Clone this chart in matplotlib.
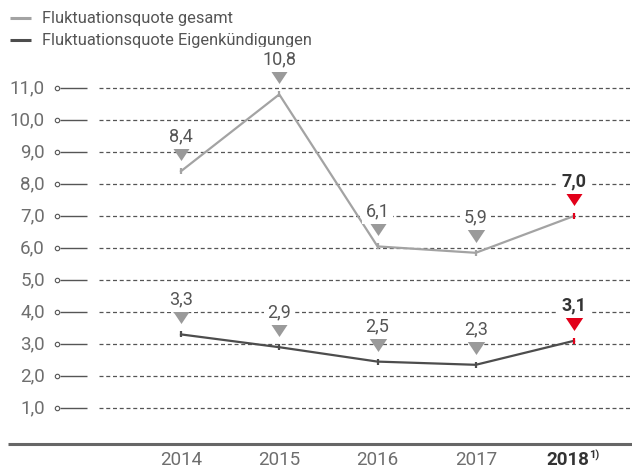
import matplotlib
matplotlib.use("Agg")
import matplotlib.pyplot as plt
from matplotlib.transforms import offset_copy

plt.rcParams['font.family'] = ['Roboto', 'DejaVu Sans']

years = ["2014", "2015", "2016", "2017", "2018"]
gesamt = [8.4, 10.8, 6.05, 5.85, 7.0]
gesamt_labels = ["8,4", "10,8", "6,1", "5,9", "7,0"]
eigen = [3.3, 2.9, 2.45, 2.35, 3.1]
eigen_labels = ["3,3", "2,9", "2,5", "2,3", "3,1"]
yticks = [1, 2, 3, 4, 5, 6, 7, 8, 9, 10, 11]
ytick_labels = ["1,0", "2,0", "3,0", "4,0", "5,0", "6,0", "7,0", "8,0", "9,0", "10,0", "11,0"]
legend_labels = ["Fluktuationsquote gesamt", "Fluktuationsquote Eigenkündigungen"]

C_LIGHT = "#a3a3a3"
C_DARK = "#4d4d4d"
C_RED = "#e2001a"
C_TRI = "#9a9a9a"
C_TXT = "#555555"

W, H = 632, 469
fig = plt.figure(figsize=(W / 100, H / 100), dpi=100)
ax = fig.add_axes([0, 0, 1, 1])
X0, DX = 181, 98.25
Y0, DY = 440, 32.0
ax.set_xlim(-X0 / DX, (W - X0) / DX)
ax.set_ylim(-(H - Y0) / DY, Y0 / DY)
ax.axis('off')

def px(p):
    return (p - X0) / DX

def py(p):
    return (Y0 - p) / DY

xs = list(range(len(years)))

# gridlines and tick decorations
for v, lab in zip(yticks, ytick_labels):
    ax.plot([px(99), px(632)], [v, v], color="#555555", lw=0.9,
            dashes=(3.2, 2.2), zorder=1)
    ax.plot([px(60), px(87)], [v, v], color="#555555", lw=1.0, zorder=1,
            solid_capstyle='butt')
    ax.plot([px(57.5)], [v], marker='o', ms=3.2, mfc='white', mec="#555555",
            mew=0.8, zorder=2)
    ax.text(px(45), v, lab, ha='right', va='center', fontsize=13.5,
            color="#6e6e6e")

# baseline
ax.plot([px(8), px(632)], [py(444), py(444)], color="#666666", lw=2.2,
        solid_capstyle='butt')

# year labels
for i, y in enumerate(years[:-1]):
    ax.text(xs[i], py(460), y, ha='center', va='center', fontsize=13.5,
            color="#6e6e6e")
ax.text(px(589), py(460), years[-1], ha='right', va='center', fontsize=13.5,
        color="#333333", fontweight='bold')
ax.text(px(589.5), py(455.5), "1)", ha='left', va='center', fontsize=8,
        color="#333333", fontweight='bold')

# lines
ax.plot(xs, gesamt, color=C_LIGHT, lw=1.6, zorder=3)
ax.plot(xs, eigen, color=C_DARK, lw=1.6, zorder=3)

tri = [(-1, 0.75), (1, 0.75), (0, -0.75)]
for series, labels, col in ((gesamt, gesamt_labels, C_LIGHT), (eigen, eigen_labels, C_DARK)):
    for i, (v, lab) in enumerate(zip(series, labels)):
        last = i == len(series) - 1
        mcol = C_RED if last else col
        ax.plot([xs[i]], [v], marker='|', ms=5, mew=1.6, color=mcol, zorder=4)
        trans = offset_copy(ax.transData, fig=fig, y=17, units='dots')
        ax.plot([xs[i]], [v], marker=tri, ms=12.5, color=C_RED if last else C_TRI,
                mec='none', transform=trans, zorder=5)
        ax.annotate(lab, (xs[i], v), xytext=(0, 35 * 72 / 100),
                    textcoords='offset points', ha='center', va='center',
                    fontsize=13, color="#333333" if last else C_TXT,
                    fontweight='bold' if last else 'normal',
                    bbox=dict(boxstyle='square,pad=0.2', fc='white', ec='none'),
                    zorder=6)

# legend
for yy, col, lab in ((18, C_LIGHT, legend_labels[0]), (40, C_DARK, legend_labels[1])):
    ax.plot([px(10), px(31)], [py(yy), py(yy)], color=col, lw=2.2, solid_capstyle='butt')
    ax.text(px(42), py(yy), lab, ha='left', va='center', fontsize=11.8,
            color="#555555")

fig.savefig("out.png", dpi=100)
